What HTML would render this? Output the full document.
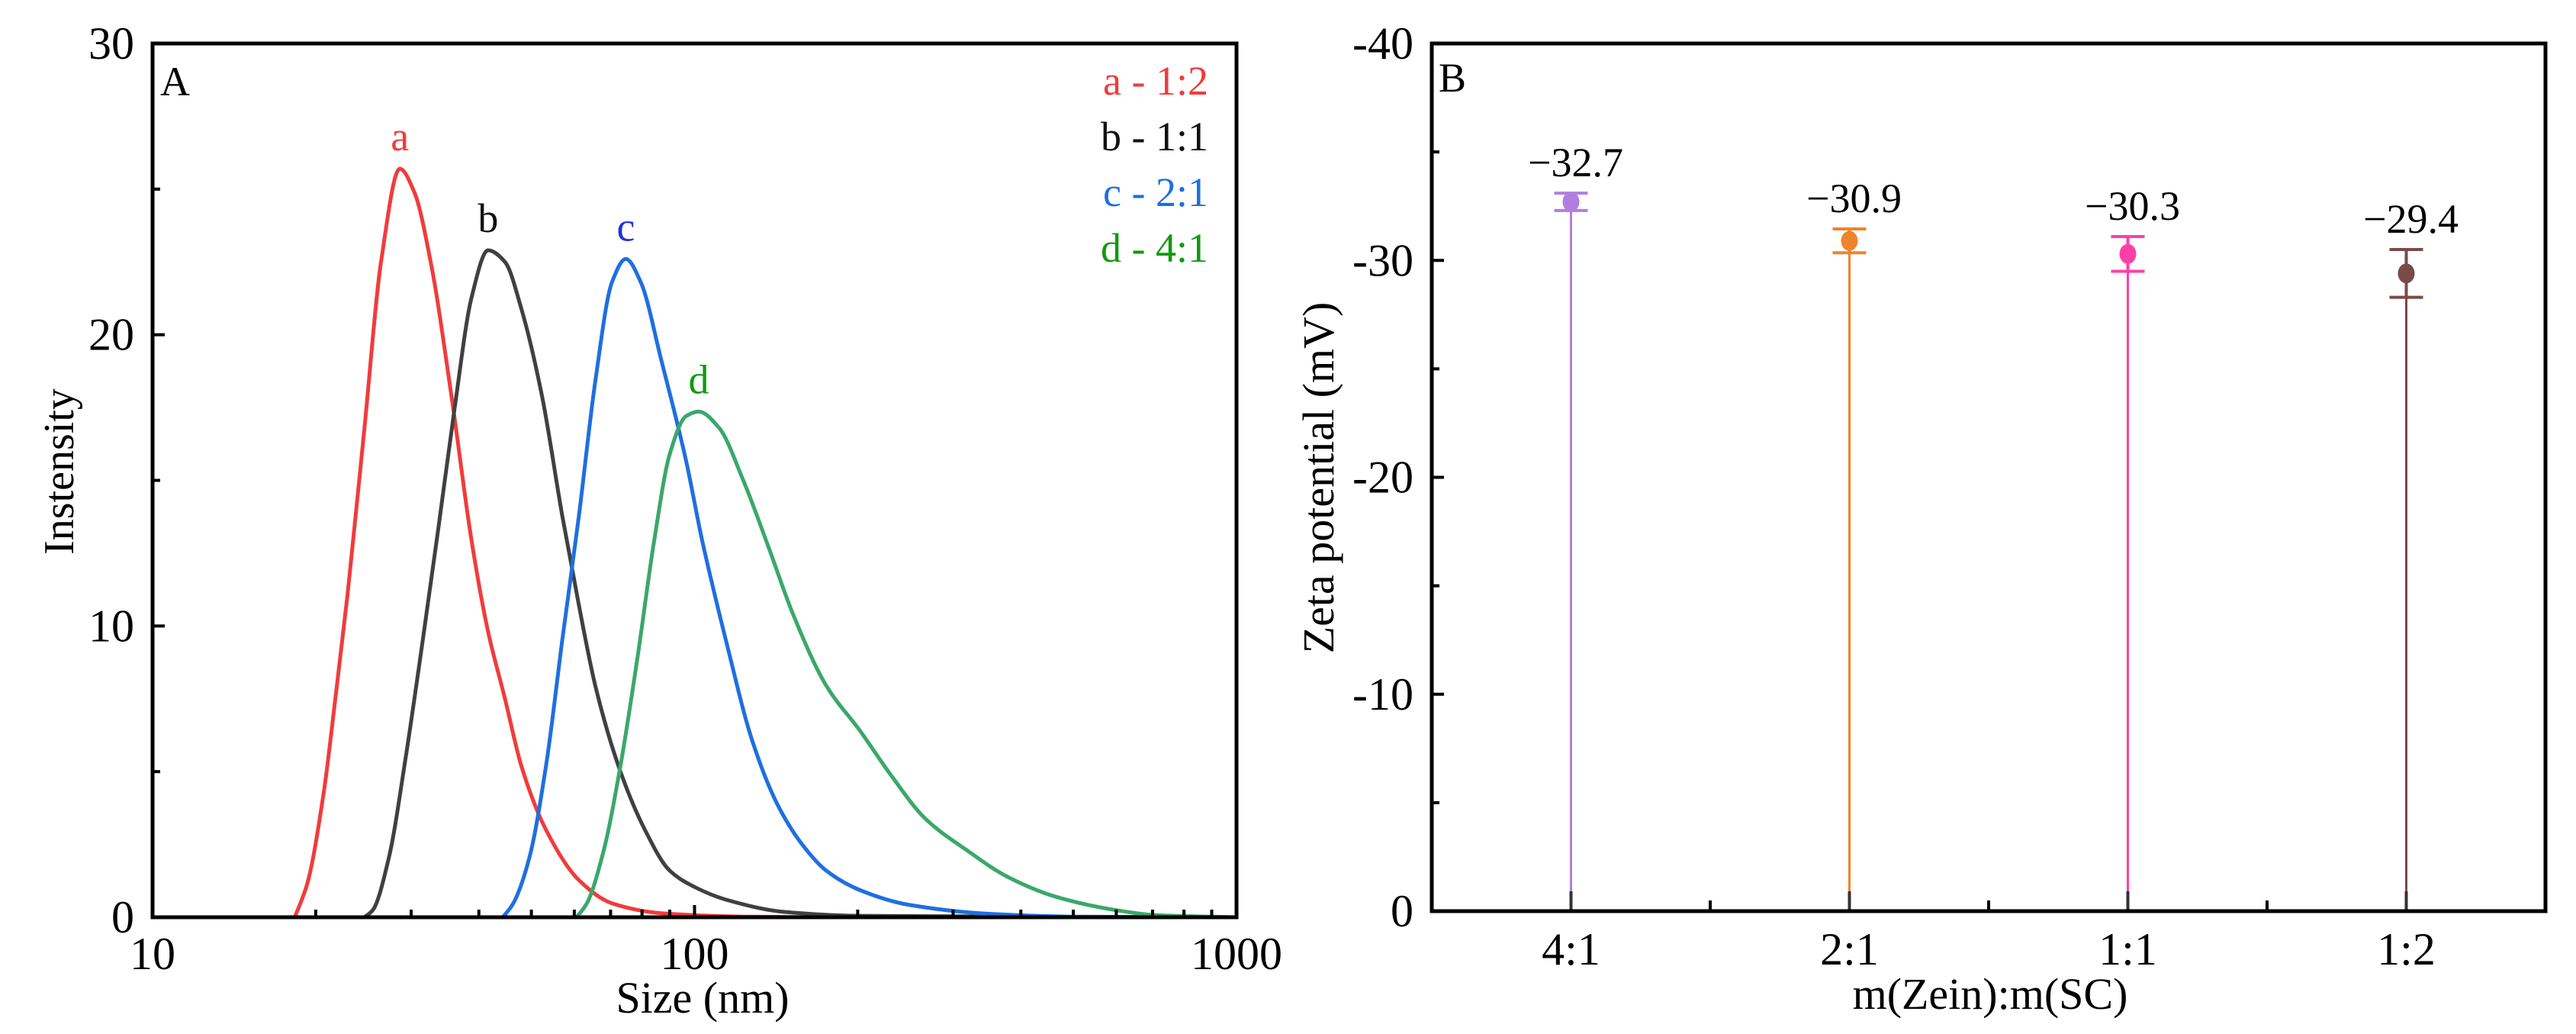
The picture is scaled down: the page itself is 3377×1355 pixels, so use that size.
<!DOCTYPE html>
<html><head><meta charset="utf-8"><style>
html,body{margin:0;padding:0;background:#fff;}
svg{display:block;font-family:"Liberation Serif",serif;}
</style></head><body>
<svg id="fig" width="3377" height="1355" viewBox="0 0 3377 1355" xmlns="http://www.w3.org/2000/svg"></svg>
<script>
// ---- Panel A data ----
const sizeA=[18.3,19.3,20.7,21.8,22.9,24.6,26.4,28.6,30.4,32.6,35.6,38.8,41.6,44.7,47.9,53.2,61.2,70.4,86.9,123,175,1000];
const intA=[0,1.16,4.3,7.7,11.1,16.8,22.5,25.7,24.9,22.5,17.9,12.9,9.8,7.5,5.2,3.0,1.27,0.48,0.14,0.02,0,0];
const sizeB=[24.6,25.5,27.3,29.3,31.4,33.7,36.1,38.8,41.6,44.7,47.9,52.3,57,61.2,65.6,73,81,90,100,115,147,200,1000];
const intB=[0,0.25,2.06,5.46,9.3,13.4,17.5,21.3,22.9,22.5,20.9,17.9,13.8,10.7,7.95,5.0,3.0,1.6,1.04,0.59,0.18,0.05,0];
const sizeC=[44.3,46.3,49.6,53.2,57,61.2,65.6,70.4,74.7,79.6,86.9,96.4,103.4,115,127.6,142,158,175,202,248,355,504,1000];
const intC=[0,0.48,2.06,5.2,9.5,13.8,18.4,21.8,22.6,21.8,19.1,15.7,12.9,9.3,6.1,3.9,2.5,1.6,0.93,0.43,0.11,0.02,0];
const sizeD=[60.6,63.3,68,73,78.4,84.2,90,96.4,101.8,111,123,137,152,175,202,232,266,318,377,465,597,712,1000];
const intD=[0,0.48,2.3,5.2,8.86,12.9,15.9,17.2,17.36,16.8,15.0,12.7,10.4,7.95,6.4,4.8,3.4,2.3,1.4,0.7,0.25,0.07,0];
const xTicksA=[10,100,1000];
const yTicksA=[0,10,20,30];
// ---- Panel B data ----
const catsB=["4:1","2:1","1:1","1:2"];
const zetaB=[-32.7,-30.9,-30.3,-29.4];
const errB=[0.4,0.55,0.8,1.1];
const zetaLabels=["\u221232.7","\u221230.9","\u221230.3","\u221229.4"];
const yTicksB=[0,-10,-20,-30,-40];

const NS="http://www.w3.org/2000/svg";
const svg=document.getElementById('fig');
function mk(tag,attrs,parent){const e=document.createElementNS(NS,tag);for(const k in attrs)e.setAttribute(k,attrs[k]);(parent||svg).appendChild(e);return e;}
function txt(s,attrs,parent){const e=mk('text',attrs,parent);e.textContent=s;return e;}
// monotone cubic (Fritsch-Carlson)
function monotone(pts){
  const n=pts.length,dx=[],sl=[],m=[];
  for(let i=0;i<n-1;i++){dx[i]=pts[i+1][0]-pts[i][0];sl[i]=(pts[i+1][1]-pts[i][1])/dx[i];}
  m[0]=sl[0];m[n-1]=sl[n-2];
  for(let i=1;i<n-1;i++){m[i]=(sl[i-1]*sl[i]<=0)?0:(dx[i-1]+dx[i])*3/((2*dx[i]+dx[i-1])/sl[i-1]+(dx[i]+2*dx[i-1])/sl[i]);}
  let d='M'+pts[0][0].toFixed(1)+','+pts[0][1].toFixed(1);
  for(let i=0;i<n-1;i++){
    const h=dx[i]/3;
    d+=' C'+(pts[i][0]+h).toFixed(1)+','+(pts[i][1]+m[i]*h).toFixed(1)+' '+(pts[i+1][0]-h).toFixed(1)+','+(pts[i+1][1]-m[i+1]*h).toFixed(1)+' '+pts[i+1][0].toFixed(1)+','+pts[i+1][1].toFixed(1);
  }
  return d;
}

// ===== Panel A =====
const AL=200,AR=1621,AT=57,AB=1202;
const xA=v=>AL+(Math.log10(v)-1)/2*(AR-AL);
const yA=v=>AB-v/30*(AB-AT);
const gA=mk('g',{});


const series=[[sizeA,intA,'#f03c3c','curve-a'],[sizeB,intB,'#404040','curve-b'],[sizeC,intC,'#1f6fe0','curve-c'],[sizeD,intD,'#3aa86a','curve-d']];
series.forEach(([xs,ys,c,n])=>{
  const pts=[];
  for(let i=0;i<xs.length;i++)pts.push([xA(xs[i]),yA(ys[i])]);
  const d='M'+xA(10)+','+yA(0)+' L'+pts[0][0].toFixed(1)+','+pts[0][1].toFixed(1)+' '+monotone(pts).replace(/^M[^ ]+/,'');
  const p=mk('path',{d:d,fill:'none',stroke:c,'stroke-width':5,'stroke-linejoin':'round'},gA);
  
  
});
const peakLab=[['a',sizeA,intA,'#f03c3c'],['b',sizeB,intB,'#111'],['c',sizeC,intC,'#2030e0'],['d',sizeD,intD,'#109a10']];
peakLab.forEach(([s,xs,ys,c])=>{
  let m=0;ys.forEach((v,i)=>{if(v>ys[m])m=i;});
  const t=txt(s,{x:xA(xs[m]),y:yA(ys[m])-24,'font-size':54,fill:c,'text-anchor':'middle'},gA);
  
  
});
for(let dec=10;dec<1000;dec*=10)for(let k=2;k<=9;k++){
  const x=xA(dec*k);mk('line',{x1:x,x2:x,y1:AB,y2:AB-10,stroke:'#000','stroke-width':4},gA);
}
xTicksA.forEach(v=>{
  const x=xA(v);mk('line',{x1:x,x2:x,y1:AB,y2:AB-16,stroke:'#000','stroke-width':4},gA);
  const t=txt(String(v),{x:x,y:1270,'font-size':60,'text-anchor':'middle'},gA);
  
  
});
for(let v=0;v<=30;v+=5){const y=yA(v);mk('line',{x1:AL,x2:AL+(v%10?10:16),y1:y,y2:y,stroke:'#000','stroke-width':4},gA);}
yTicksA.forEach(v=>{
  const t=txt(String(v),{x:176,y:yA(v)+20,'font-size':60,'text-anchor':'end'},gA);
  
  
});
const frA=mk('rect',{x:AL,y:AT,width:AR-AL,height:AB-AT,fill:'none',stroke:'#000','stroke-width':5},gA);


let t;
t=txt('A',{x:210,y:125,'font-size':54},gA);


t=txt('Size (nm)',{x:921,y:1327,'font-size':58,'text-anchor':'middle'},gA);


t=txt('Instensity',{x:0,y:0,'font-size':56,'text-anchor':'middle',transform:'translate(96,618) rotate(-90)'},gA);


const leg=[['a - 1:2','#f03c3c',124],['b - 1:1','#111',197],['c - 2:1','#1f6fe0',270],['d - 4:1','#109a10',343]];
leg.forEach(([s,c,y])=>{
  const e=txt(s,{x:1584,y:y,'font-size':54,fill:c,'text-anchor':'end'},gA);
  
  
});

// ===== Panel B =====
const BL=1877,BR=3337,BT=57,BB=1194;
const xB=i=>BL+(i+0.5)*(BR-BL)/catsB.length;
const yB=v=>BB-(-v)/40*(BB-BT);
const gB=mk('g',{});


const colB=['#b07ee0','#f0842a','#ff3fa8','#7a4a48'];
catsB.forEach((c,i)=>{
  const x=xB(i),col=colB[i];
  const st=mk('line',{x1:x,x2:x,y1:yB(0),y2:yB(zetaB[i]),stroke:col,'stroke-width':3},gB);
  
  
  mk('line',{x1:x,x2:x,y1:yB(0),y2:yB(0)-26,stroke:'#333','stroke-width':4},gB);
  const top=zetaB[i]-errB[i],bot=zetaB[i]+errB[i];
  const eb=mk('path',{d:`M${x-22},${yB(top)} H${x+22} M${x},${yB(top)} V${yB(bot)} M${x-22},${yB(bot)} H${x+22}`,stroke:col,'stroke-width':4,fill:'none'},gB);
  
  
  const pt=mk('ellipse',{cx:x,cy:yB(zetaB[i]),rx:11,ry:13,fill:col},gB);
  
  
  const lb=txt(zetaLabels[i],{x:x+6,y:yB(top)-22,'font-size':54,'text-anchor':'middle'},gB);
  
  
  const xl=txt(c,{x:x,y:1264,'font-size':60,'text-anchor':'middle'},gB);
  
  
});
for(let i=1;i<catsB.length;i++){const x=BL+i*(BR-BL)/catsB.length;mk('line',{x1:x,x2:x,y1:BB,y2:BB-14,stroke:'#000','stroke-width':4},gB);}
for(let v=0;v>=-40;v-=5){const y=yB(v);mk('line',{x1:BL,x2:BL+(v%10?10:16),y1:y,y2:y,stroke:'#000','stroke-width':4},gB);}
yTicksB.forEach(v=>{
  const e=txt(String(v),{x:1853,y:yB(v)+20,'font-size':60,'text-anchor':'end'},gB);
  
  
});
const frB=mk('rect',{x:BL,y:BT,width:BR-BL,height:BB-BT,fill:'none',stroke:'#000','stroke-width':5},gB);


t=txt('B',{x:1886,y:120,'font-size':54},gB);


t=txt('m(Zein):m(SC)',{x:2609,y:1322,'font-size':58,'text-anchor':'middle'},gB);


t=txt('Zeta potential (mV)',{x:0,y:0,'font-size':58,'text-anchor':'middle',transform:'translate(1748,626) rotate(-90)'},gB);


</script>
</body></html>
